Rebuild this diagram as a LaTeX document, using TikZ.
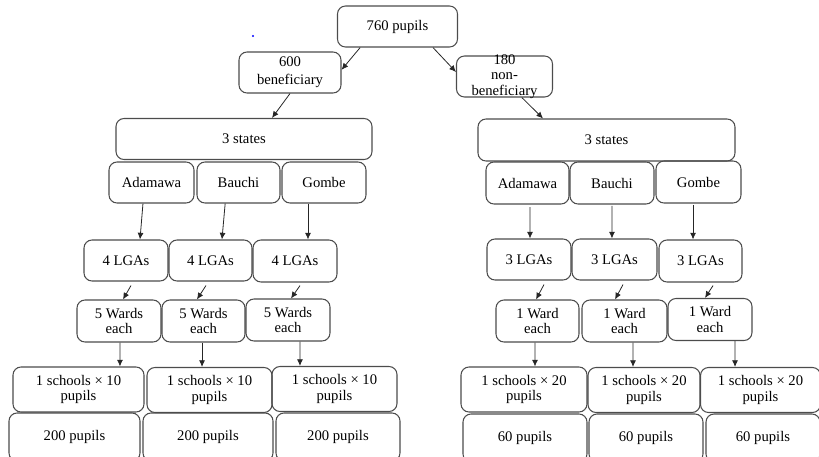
\documentclass[tikz,border=0pt]{standalone}
\usepackage{fontspec}
\setmainfont{Liberation Serif}
\usetikzlibrary{arrows.meta}
\begin{document}
\begin{tikzpicture}[x=0.75pt,y=-0.75pt,
  box/.style={draw=black!70, line width=0.8pt, rounded corners=6pt, align=center,
    font=\fontsize{11}{11.5}\selectfont, inner sep=1pt},
  sz/.style 2 args={minimum width=#1*0.75pt, minimum height=#2*0.75pt},
  arr/.style={-{Latex[length=5pt,width=4.5pt]}, black!85, line width=0.6pt}]
  \useasboundingbox (0,0) rectangle (819,457);
  \clip (0,0) rectangle (819,457);
  % top split
  \node[box, sz={120}{41}] (top) at (397.5,26.5) {760 pupils};
  \node[box, sz={102}{41}] (ben) at (290,72.5) {600\\[2pt]beneficiary};
  \node[box, sz={96}{41}, label={[align=center, font=\fontsize{11}{11.5}\selectfont]center:{180\\non-\\beneficiary}}] (nonben) at (504.5,76.5) {};
  \fill[blue] (253,36) circle (0.9pt);
  % states
  \node[box, sz={256}{41}] (lst) at (244,139) {3 states};
  \node[box, sz={257}{42}] (rst) at (606.5,140) {3 states};
  \node[box, sz={85}{41}] (lad) at (151.5,182.5) {Adamawa};
  \node[box, sz={83}{41}] (lba) at (238.5,182.5) {Bauchi};
  \node[box, sz={84}{41}] (lgo) at (324,182.5) {Gombe};
  \node[box, sz={83}{42}] (rad) at (527.5,183) {Adamawa};
  \node[box, sz={84}{42}] (rba) at (612,183) {Bauchi};
  \node[box, sz={85}{42}] (rgo) at (698.5,182) {Gombe};
  % LGAs
  \node[box, sz={84}{41}] (llga1) at (126,260.5) {4 LGAs};
  \node[box, sz={83}{41}] (llga2) at (210.5,260.5) {4 LGAs};
  \node[box, sz={84}{42}] (llga3) at (295,261) {4 LGAs};
  \node[box, sz={84}{41}] (rlga1) at (529,259.5) {3 LGAs};
  \node[box, sz={85}{41}] (rlga2) at (614.5,259.5) {3 LGAs};
  \node[box, sz={83}{42}] (rlga3) at (700.5,261) {3 LGAs};
  % wards
  \node[box, sz={84}{42}] (lw1) at (119,321) {5 Wards\\each};
  \node[box, sz={83}{42}] (lw2) at (203.5,321) {5 Wards\\each};
  \node[box, sz={84}{42}] (lw3) at (288,320) {5 Wards\\each};
  \node[box, sz={83}{42}] (rw1) at (537.5,321) {1 Ward\\each};
  \node[box, sz={85}{42}] (rw2) at (624.5,321) {1 Ward\\each};
  \node[box, sz={84}{42}] (rw3) at (710,319.5) {1 Ward\\each};
  % schools
  \node[box, sz={131}{45}] (ls1) at (78.5,389.5) {1 schools × 10\\pupils};
  \node[box, sz={125}{45}] (ls2) at (209.5,390) {1 schools × 10\\pupils};
  \node[box, sz={125}{45}] (ls3) at (334.5,389) {1 schools × 10\\pupils};
  \node[box, sz={126}{45}] (rs1) at (524,389.5) {1 schools × 20\\pupils};
  \node[box, sz={112}{45}] (rs2) at (644,390) {1 schools × 20\\pupils};
  \node[box, sz={120}{45}] (rs3) at (760.5,390) {1 schools × 20\\pupils};
  % totals
  \node[box, sz={131}{48}] (lp1) at (74.5,437) {200 pupils};
  \node[box, sz={130}{48}] (lp2) at (208,437) {200 pupils};
  \node[box, sz={124}{48}] (lp3) at (338,437) {200 pupils};
  \node[box, sz={124}{48}] (rp1) at (525,438) {60 pupils};
  \node[box, sz={114}{48}] (rp2) at (646,438) {60 pupils};
  \node[box, sz={114}{48}] (rp3) at (763,438) {60 pupils};
  % arrows
  \draw[arr] ([xshift=-28pt]top.south) -- ([yshift=2pt]ben.east);
  \draw[arr] ([xshift=26.6pt]top.south) -- ([yshift=3.4pt]nonben.west);
  \draw[arr] (ben.south) -- ([xshift=21pt]lst.north);
  \draw[arr] ([xshift=13pt]nonben.south) -- ([xshift=-47.6pt]rst.north);
  \draw[arr] ([xshift=-6.4pt]lad.south) -- ([xshift=10.5pt]llga1.north);
  \draw[arr] ([xshift=-10pt]lba.south) -- ([xshift=8.6pt]llga2.north);
  \draw[arr] ([xshift=-12pt]lgo.south) -- ([xshift=9.75pt]llga3.north);
  \draw[arr] ([xshift=1.9pt,yshift=-2pt]rad.south) -- ([xshift=0.75pt]rlga1.north);
  \draw[arr] ([yshift=-1pt]rba.south) -- ([xshift=-1.9pt]rlga2.north);
  \draw[arr] ([xshift=-4.1pt,yshift=-1pt]rgo.south) -- ([xshift=-5.6pt]rlga3.north);
  \draw[arr] ([xshift=3.75pt,yshift=-3pt]llga1.south) -- ([xshift=3pt]lw1.north);
  \draw[arr] ([xshift=-3.4pt,yshift=-3pt]llga2.south) -- ([xshift=-4.9pt]lw2.north);
  \draw[arr] ([xshift=3.75pt,yshift=-2.3pt]llga3.south) -- ([xshift=2.25pt]lw3.north);
  \draw[arr] ([xshift=11.25pt,yshift=-3pt]rlga1.south) -- ([xshift=-1.1pt]rw1.north);
  \draw[arr] ([xshift=6.4pt,yshift=-3pt]rlga2.south) -- ([xshift=-7.1pt]rw2.north);
  \draw[arr] ([xshift=9.4pt,yshift=-2.3pt]rlga3.south) -- ([xshift=-3.75pt]rw3.north);
  \draw[arr] ([xshift=0.75pt]lw1.south) -- ([xshift=31.1pt]ls1.north);
  \draw[arr] ([xshift=-1.1pt]lw2.south) -- ([xshift=-5.6pt]ls2.north);
  \draw[arr] ([xshift=9pt]lw3.south) -- ([xshift=-25.9pt]ls3.north);
  \draw[arr] ([xshift=-1.9pt]rw1.south) -- ([xshift=8.25pt]rs1.north);
  \draw[arr] ([xshift=6.4pt]rw2.south) -- ([xshift=-8.25pt]rs2.north);
  \draw[arr] ([xshift=18.75pt]rw3.south) -- ([xshift=-19.1pt]rs3.north);
\end{tikzpicture}
\end{document}
